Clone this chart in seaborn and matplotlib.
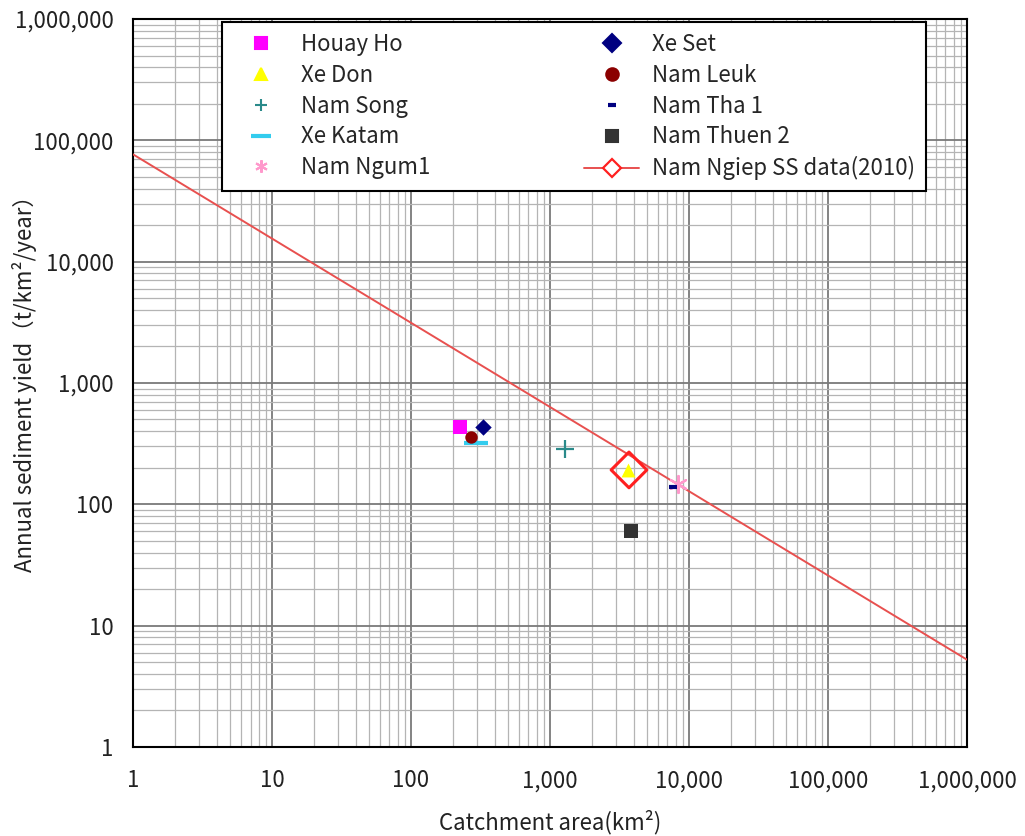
import numpy as np
import pandas as pd
import matplotlib
matplotlib.use("Agg")
import matplotlib.pyplot as plt
from matplotlib.ticker import LogLocator, FuncFormatter, NullFormatter
from matplotlib.lines import Line2D
import seaborn as sns

sns.set_style("white")
plt.rcParams['font.family'] = ['Noto Sans CJK JP', 'DejaVu Sans']

# ---- data ----
stations = ["Houay Ho", "Xe Don", "Nam Song", "Xe Katam", "Nam Ngum1",
            "Xe Set", "Nam Leuk", "Nam Tha 1", "Nam Thuen 2"]
catchment_km2 = [225, 3650, 1290, 292, 8300, 330, 270, 7700, 3840]
sediment_yield = [430, 190, 285, 322, 147, 435, 360, 139, 60]

ngiep_label = "Nam Ngiep SS data(2010)"
ngiep_area = [3700]
ngiep_yield = [192]

fit_area = [1, 1000000]
fit_yield = [76600, 5.24]

x_ticks = [1, 10, 100, 1000, 10000, 100000, 1000000]
y_ticks = [1, 10, 100, 1000, 10000, 100000, 1000000]

# ---- styles ----
styles = {
    "Houay Ho":    dict(marker="s", color="#ff00ff", s=90),
    "Xe Don":      dict(marker="^", color="#ffff00", s=100),
    "Nam Song":    dict(marker="+", color="#2a8a8a", s=160),
    "Xe Katam":    dict(marker="_", color="#33ccee", s=300),
    "Nam Ngum1":   dict(marker=(6, 2, 0), color="#ff99cc", s=150),
    "Xe Set":      dict(marker="D", color="#000080", s=70),
    "Nam Leuk":    dict(marker="o", color="#8b0000", s=80),
    "Nam Tha 1":   dict(marker="_", color="#000080", s=40),
    "Nam Thuen 2": dict(marker="s", color="#333333", s=90),
}

FS = 16

fig = plt.figure(figsize=(10.25, 8.36), dpi=100)
ax = fig.add_axes([0.1298, 0.1065, 0.8136, 0.8708])
ax.set_xscale("log")
ax.set_yscale("log")

# fit line
sns.lineplot(x=fit_area, y=fit_yield, ax=ax, color="#e8504f", linewidth=1.4,
             zorder=3, legend=False)

for name, xa, ya in zip(stations, catchment_km2, sediment_yield):
    st = styles[name]
    unfilled = st["marker"] in ("+", "_") or isinstance(st["marker"], tuple)
    sns.scatterplot(x=[xa], y=[ya], ax=ax, marker=st["marker"], color=st["color"],
                    s=st["s"], linewidth=3 if st["marker"] == "_" else 1.6 if unfilled else 0,
                    zorder=4, legend=False)

# Nam Ngiep open diamond
sns.scatterplot(x=ngiep_area, y=ngiep_yield, ax=ax, marker="D", s=330,
                facecolor="none", edgecolor="#ff2020", linewidth=2.2, zorder=5,
                legend=False)

ax.set_xlim(x_ticks[0], x_ticks[-1])
ax.set_ylim(y_ticks[0], y_ticks[-1])
ax.set_xticks(x_ticks)
ax.set_yticks(y_ticks)
fmt = FuncFormatter(lambda v, p: f"{v:,.0f}")
ax.xaxis.set_major_formatter(fmt)
ax.yaxis.set_major_formatter(fmt)
ax.xaxis.set_minor_locator(LogLocator(base=10, subs=np.arange(2, 10), numticks=20))
ax.yaxis.set_minor_locator(LogLocator(base=10, subs=np.arange(2, 10), numticks=20))
ax.xaxis.set_minor_formatter(NullFormatter())
ax.yaxis.set_minor_formatter(NullFormatter())

ax.grid(which="major", color="#7a7a7a", linewidth=1.3, zorder=0)
ax.grid(which="minor", color="#b4b4b4", linewidth=0.9, zorder=0)
ax.set_axisbelow(True)
ax.tick_params(which="major", direction="in", length=7, width=1.2, color="black",
               labelsize=FS, labelcolor="#222222")
ax.tick_params(axis="x", which="major", pad=16)
ax.tick_params(axis="y", which="major", pad=14)
ax.tick_params(which="minor", length=0)
for sp in ax.spines.values():
    sp.set_color("black")
    sp.set_linewidth(1.5)
    sp.set_visible(True)

ax.set_xlabel("Catchment area(km²)", fontsize=FS, color="#222222")
ax.xaxis.set_label_coords(0.5, -0.086)
ax.set_ylabel("Annual sediment yield（t/km²/year）", fontsize=FS, color="#222222")
ax.yaxis.set_label_coords(-0.115, 0.507)

# legend
handles = []
for name in stations:
    st = styles[name]
    m = st["marker"]
    ms = 9
    if m == "_":
        ms = 14 if name == "Xe Katam" else 6
    h = Line2D([], [], linestyle="none", marker=m, color=st["color"],
               markersize=ms, markeredgewidth=3 if m == "_" else 1.5, label=name)
    handles.append(h)
handles.append(Line2D([], [], color="#e8504f", linewidth=1.4, marker="D",
                      markersize=9, markerfacecolor="white", markeredgecolor="#ff2020",
                      markeredgewidth=1.6, label=ngiep_label))
leg = ax.legend(handles=handles, ncol=2, loc="upper left",
                bbox_to_anchor=(0.1067, 0.9959), borderaxespad=0,
                fontsize=FS, frameon=True,
                fancybox=False, edgecolor="black", framealpha=1,
                handlelength=2.48, labelspacing=0.35, columnspacing=6.9,
                borderpad=0.5, handletextpad=0.59)
leg.get_frame().set_linewidth(1.5)
leg.set_zorder(10)

fig.savefig("out.png", dpi=100)
